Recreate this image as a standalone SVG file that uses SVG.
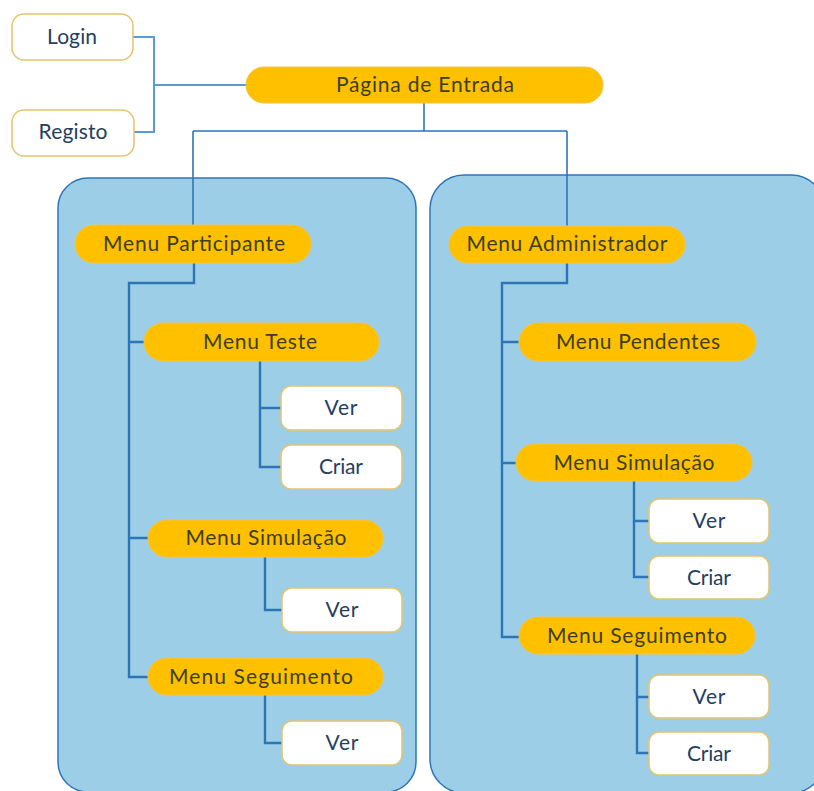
<svg xmlns="http://www.w3.org/2000/svg" width="814" height="791" viewBox="0 0 814 791">
  <style>
    .panel { fill: #9ccfe7; stroke: #2e75b6; stroke-width: 1.5; }
    .pill { fill: #ffc000; stroke: #f3c445; stroke-width: 1; }
    .box { fill: #ffffff; stroke: #e6c46e; stroke-width: 1.5; }
    .lbl { font-family: Lato, "Open Sans", "Liberation Sans", sans-serif; font-size: 21px; text-anchor: middle; }
    .pill-t { fill: #3c3f1e; }
    .box-t { fill: #23405f; }
    .wire { fill: none; stroke: #2e75b6; stroke-width: 2.4; }
    .wire-top { fill: none; stroke: #5b9bd5; stroke-width: 2; }
    .wire-thin { fill: none; stroke: #2e75b6; stroke-width: 1.6; }
  </style>

  <!-- group panels -->
  <rect id="panel-participante" class="panel" x="58" y="178" width="358" height="614" rx="30"/>
  <rect id="panel-administrador" class="panel" x="430" y="175" width="395" height="618" rx="34"/>

  <!-- connectors -->
  <g id="connectors">
    <path class="wire-top" d="M133,37 H154 V132 H134 M154,85 H247"/>
    <path class="wire-thin" d="M424,103 V131 M193,131 H567 M193,131 V225 M567,131 V226"/>
    <!-- participant branch -->
    <path class="wire" d="M194,263 V283 H129 V677 H148 M129,342 H145 M129,538 H148"/>
    <path class="wire" d="M260,361 V467 H281 M260,408 H281"/>
    <path class="wire" d="M265,557 V610 H282"/>
    <path class="wire" d="M265,695 V743 H282"/>
    <!-- administrator branch -->
    <path class="wire" d="M567,263 V283 H502 V637 H519 M502,342 H519 M502,463 H516"/>
    <path class="wire" d="M634,481 V577 H649 M634,521 H649"/>
    <path class="wire" d="M637,654 V753 H649 M637,697 H649"/>
  </g>

  <!-- top level -->
  <g id="login">
    <rect class="box" x="12" y="14" width="121" height="46" rx="12"/>
    <text class="lbl box-t" x="72" y="44" textLength="50">Login</text>
  </g>
  <g id="registo">
    <rect class="box" x="12" y="110" width="122" height="46" rx="12"/>
    <text class="lbl box-t" x="73" y="139" textLength="69">Registo</text>
  </g>
  <g id="pagina-entrada">
    <rect class="pill" x="246" y="67" width="357" height="36" rx="18"/>
    <text class="lbl pill-t" x="425" y="92" textLength="178">Página de Entrada</text>
  </g>

  <!-- participant menus -->
  <g id="menu-participante">
    <rect class="pill" x="75" y="225" width="236" height="38" rx="19"/>
    <text class="lbl pill-t" x="194" y="251" textLength="182">Menu Participante</text>
  </g>
  <g id="p-menu-teste">
    <rect class="pill" x="144" y="323" width="235" height="38" rx="19"/>
    <text class="lbl pill-t" x="260" y="349" textLength="114">Menu Teste</text>
  </g>
  <g id="p-teste-ver">
    <rect class="box" x="281" y="386" width="121" height="44" rx="10"/>
    <text class="lbl box-t" x="341" y="415" textLength="33">Ver</text>
  </g>
  <g id="p-teste-criar">
    <rect class="box" x="281" y="445" width="121" height="44" rx="10"/>
    <text class="lbl box-t" x="341" y="474" textLength="44">Criar</text>
  </g>
  <g id="p-menu-simulacao">
    <rect class="pill" x="148" y="520" width="235" height="37" rx="18.5"/>
    <text class="lbl pill-t" x="266" y="545" textLength="161">Menu Simulação</text>
  </g>
  <g id="p-simulacao-ver">
    <rect class="box" x="282" y="588" width="120" height="44" rx="10"/>
    <text class="lbl box-t" x="342" y="617" textLength="33">Ver</text>
  </g>
  <g id="p-menu-seguimento">
    <rect class="pill" x="148" y="658" width="235" height="37" rx="18.5"/>
    <text class="lbl pill-t" x="261" y="684" textLength="184">Menu Seguimento</text>
  </g>
  <g id="p-seguimento-ver">
    <rect class="box" x="282" y="721" width="120" height="44" rx="10"/>
    <text class="lbl box-t" x="342" y="750" textLength="33">Ver</text>
  </g>

  <!-- administrator menus -->
  <g id="menu-administrador">
    <rect class="pill" x="449" y="226" width="236" height="37" rx="18.5"/>
    <text class="lbl pill-t" x="567" y="251" textLength="201">Menu Administrador</text>
  </g>
  <g id="a-menu-pendentes">
    <rect class="pill" x="519" y="323" width="237" height="38" rx="19"/>
    <text class="lbl pill-t" x="638" y="349" textLength="164">Menu Pendentes</text>
  </g>
  <g id="a-menu-simulacao">
    <rect class="pill" x="516" y="444" width="236" height="37" rx="18.5"/>
    <text class="lbl pill-t" x="634" y="470" textLength="161">Menu Simulação</text>
  </g>
  <g id="a-simulacao-ver">
    <rect class="box" x="649" y="499" width="120" height="44" rx="10"/>
    <text class="lbl box-t" x="709" y="528" textLength="33">Ver</text>
  </g>
  <g id="a-simulacao-criar">
    <rect class="box" x="649" y="556" width="120" height="43" rx="10"/>
    <text class="lbl box-t" x="709" y="585" textLength="44">Criar</text>
  </g>
  <g id="a-menu-seguimento">
    <rect class="pill" x="519" y="617" width="236" height="37" rx="18.5"/>
    <text class="lbl pill-t" x="637" y="643" textLength="180">Menu Seguimento</text>
  </g>
  <g id="a-seguimento-ver">
    <rect class="box" x="649" y="675" width="120" height="43" rx="10"/>
    <text class="lbl box-t" x="709" y="704" textLength="33">Ver</text>
  </g>
  <g id="a-seguimento-criar">
    <rect class="box" x="649" y="732" width="120" height="43" rx="10"/>
    <text class="lbl box-t" x="709" y="761" textLength="44">Criar</text>
  </g>
</svg>
